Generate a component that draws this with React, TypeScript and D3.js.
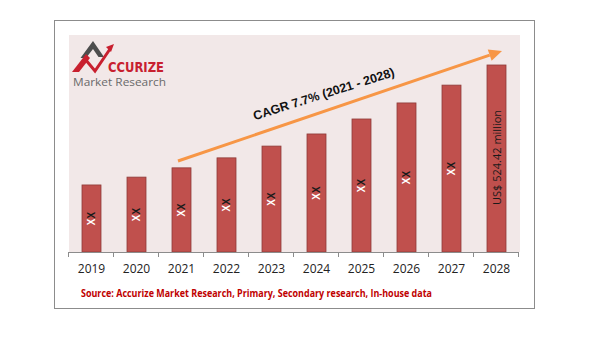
import React from 'react';
import * as d3 from 'd3';

const years = ['2019', '2020', '2021', '2022', '2023', '2024', '2025', '2026', '2027', '2028'];
const values = [188, 210, 236, 264, 297, 331, 373, 418, 468, 524.42];
const barLabels = ['XX', 'XX', 'XX', 'XX', 'XX', 'XX', 'XX', 'XX', 'XX', 'US$ 524.42 million'];
const cagrText = 'CAGR 7.7% (2021  - 2028)';
const sourceText = 'Source: Accurize Market Research, Primary, Secondary research, In-house data';

export default function App() {
  const W = 590, H = 338;
  const baseY = 252;
  const x = d3.scaleBand<string>().domain(years).range([69, 519]).paddingInner(0.578).paddingOuter(0.289);
  const y = d3.scaleLinear().domain([0, 524.42]).range([baseY, 65]);
  const step = x.step();
  const tickXs = d3.range(years.length + 1).map(i => 68 + i * step);

  // arrow
  const ax1 = 178, ay1 = 161, ax2 = 502, ay2 = 51;
  const ang = Math.atan2(ay2 - ay1, ax2 - ax1);
  const headL = 13, headW = 6;
  const bx = ax2 - headL * Math.cos(ang), by = ay2 - headL * Math.sin(ang);
  const px = -Math.sin(ang), py = Math.cos(ang);
  const head = `${ax2},${ay2} ${bx + px * headW},${by + py * headW} ${bx - px * headW},${by - py * headW}`;

  return (
    <svg width={W} height={H} style={{ position: 'absolute', left: 0, top: 0, background: '#fff' }}>
      <rect x={54.5} y={20.5} width={480} height={288} fill="#fff" stroke="#8c8c8c" strokeWidth={1} />
      <rect x={69} y={35} width={451} height={baseY - 35} fill="#F2E8E8" />

      {/* logo */}
      <g>
        <polygon points="93,41 104,57 98.5,57 93,49 86,58 80.5,58" fill="#4d4d4d" />
        <polygon points="72,72 86,54 90,58 79,72" fill="#C8202F" />
        <polyline points="85,59 95,71 110,49" fill="none" stroke="#C8202F" strokeWidth={3} strokeLinejoin="miter" />
        <polygon points="114,44 106,47 111,52" fill="#C8202F" />
        <text x={108} y={71.5} fontFamily="'Liberation Sans Narrow', 'DejaVu Sans Condensed', 'Liberation Sans', sans-serif" fontWeight="bold" fontSize={14} fill="#C8202F" textLength={56} lengthAdjust="spacingAndGlyphs">CCURIZE</text>
        <text x={73} y={86} fontFamily="'Open Sans', sans-serif" fontSize={11} fill="#6a6a6a" textLength={93} lengthAdjust="spacingAndGlyphs">Market Research</text>
      </g>

      {/* bars */}
      {years.map((yr, i) => (
        <rect key={yr} x={x(yr)} y={y(values[i])} width={x.bandwidth()} height={baseY - y(values[i])}
          fill="#C0504D" stroke="#8E3B38" strokeWidth={0.8} />
      ))}

      {/* bar labels */}
      {years.map((yr, i) => {
        const cx = (x(yr) as number) + x.bandwidth() / 2;
        const cy = (y(values[i]) + baseY) / 2;
        if (barLabels[i] === 'XX') {
          return (
            <text key={'l' + yr} transform={`translate(${cx + 3.5},${cy}) rotate(-90)`} textAnchor="middle"
              fontFamily="'Liberation Sans', Arial, sans-serif" fontSize={10} fontWeight="bold">
              <tspan fill="#ffffff">X</tspan><tspan fill="#1a1a1a">X</tspan>
            </text>
          );
        }
        return (
          <text key={'l' + yr} transform={`translate(${cx + 4},${cy - 1}) rotate(-90)`} textAnchor="middle"
            fontFamily="'Open Sans', sans-serif" fontSize={11} fill="#1a1a1a">{barLabels[i]}</text>
        );
      })}

      {/* axis */}
      <line x1={68} x2={519} y1={baseY + 0.5} y2={baseY + 0.5} stroke="#8c8c8c" strokeWidth={1} />
      {tickXs.map((tx, i) => (
        <line key={'t' + i} x1={tx + 0.5} x2={tx + 0.5} y1={baseY} y2={baseY + 5} stroke="#8c8c8c" strokeWidth={1} />
      ))}
      {years.map(yr => (
        <text key={'y' + yr} x={(x(yr) as number) + x.bandwidth() / 2} y={273} textAnchor="middle"
          fontFamily="'Open Sans', sans-serif" fontSize={12} fill="#222">{yr}</text>
      ))}

      {/* CAGR arrow */}
      <line x1={ax1} y1={ay1} x2={bx} y2={by} stroke="#F79646" strokeWidth={3} />
      <polygon points={head} fill="#F79646" />
      <text transform="translate(325,98) rotate(-17.5)" textAnchor="middle"
        fontFamily="'Liberation Sans', Arial, sans-serif" fontWeight="bold" fontSize={12.5} fill="#111">{cagrText}</text>

      {/* source */}
      <text x={81} y={297} fontFamily="'Open Sans', sans-serif" fontWeight="bold" fontSize={10} fill="#C00000"
        textLength={351} lengthAdjust="spacingAndGlyphs">{sourceText}</text>
    </svg>
  );
}
